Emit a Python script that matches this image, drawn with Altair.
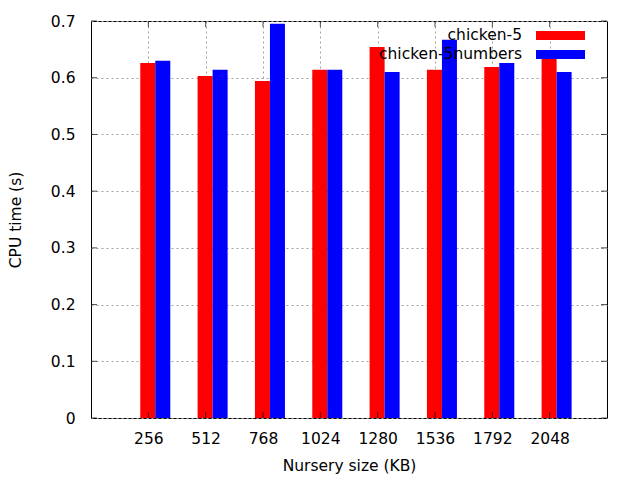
import altair as alt
import pandas as pd

sizes = [256, 512, 768, 1024, 1280, 1536, 1792, 2048]
series_names = ["chicken-5", "chicken-5numbers"]
chicken5 = [0.626, 0.603, 0.594, 0.614, 0.654, 0.614, 0.619, 0.645]
chicken5_numbers = [0.630, 0.614, 0.695, 0.614, 0.610, 0.667, 0.626, 0.610]
y_ticks = [0, 0.1, 0.2, 0.3, 0.4, 0.5, 0.6, 0.7]
colors = ["#ff0000", "#0000ff"]

rows = []
for i, s in enumerate(sizes):
    rows.append({"size": s, "series": series_names[0], "value": chicken5[i], "k": 0})
    rows.append({"size": s, "series": series_names[1], "value": chicken5_numbers[i], "k": 1})
df = pd.DataFrame(rows)

FONT = "DejaVu Sans"
FS = 15.5
W, H = 516, 397

color_scale = alt.Scale(domain=series_names, range=colors)
x_scale = alt.Scale(domain=[0, 2304], nice=False, zero=False)
y_scale = alt.Scale(domain=[0, 0.7], nice=False)

grid_dash = [2, 3]

bars = alt.Chart(df).transform_calculate(
    x0="datum.size - 36 + datum.k * 67",
    x1="datum.size + 31 + datum.k * 67",
).mark_bar(stroke=None).encode(
    x=alt.X("x0:Q", scale=x_scale,
            axis=alt.Axis(values=sizes, title="Nursery size (KB)", ticks=False,
                          format="d", labelPadding=13, titlePadding=12, grid=True,
                          gridColor="#a0a0a0", gridDash=grid_dash, domain=False,
                          labelFlush=False)),
    x2="x1:Q",
    y=alt.Y("value:Q", scale=y_scale,
            axis=alt.Axis(values=y_ticks, title="CPU time (s)", ticks=False,
                          format="~g", labelPadding=16, titlePadding=27, grid=True,
                          gridColor="#a0a0a0", gridDash=grid_dash, domain=False,
                          labelFlush=False)),
    y2=alt.datum(0),
    color=alt.Color("series:N", scale=color_scale, legend=None),
)

tick_df = pd.DataFrame({"v": y_ticks})
xt_df = pd.DataFrame({"s": sizes})

yticks_left = alt.Chart(tick_df).mark_tick(color="black", thickness=1, size=6, orient="horizontal").encode(
    y=alt.Y("v:Q", scale=y_scale), x=alt.value(3))
yticks_right = alt.Chart(tick_df).mark_tick(color="black", thickness=1, size=6, orient="horizontal").encode(
    y=alt.Y("v:Q", scale=y_scale), x=alt.value(W - 3))
xticks_bottom = alt.Chart(xt_df).mark_tick(color="black", thickness=1, size=6, orient="vertical").encode(
    x=alt.X("s:Q", scale=x_scale), y=alt.value(H - 3))
xticks_top = alt.Chart(xt_df).mark_tick(color="black", thickness=1, size=6, orient="vertical").encode(
    x=alt.X("s:Q", scale=x_scale), y=alt.value(3))

leg_df = pd.DataFrame({"series": series_names})
leg_layers = []
for i, name in enumerate(series_names):
    base = alt.Chart(leg_df).transform_filter(alt.datum.series == name)
    yc = 14 + i * 19
    leg_layers.append(base.mark_text(align="right", baseline="middle", font=FONT,
                                     fontSize=FS, color="black").encode(
        text="series:N", x=alt.value(431), y=alt.value(yc)))
    leg_layers.append(base.mark_rect().encode(
        x=alt.value(445), x2=alt.value(494), y=alt.value(yc - 4), y2=alt.value(yc + 5),
        color=alt.Color("series:N", scale=color_scale, legend=None)))

chart = alt.layer(bars, yticks_left, yticks_right, xticks_bottom, xticks_top, *leg_layers).properties(
    width=W, height=H,
    padding={"left": 91, "top": 21, "right": 640 - 91 - W, "bottom": 480 - 21 - H},
    autosize=alt.AutoSizeParams(type="none"),
    background="white",
).configure_view(
    stroke="black", strokeWidth=1
).configure_axis(
    labelFont=FONT, titleFont=FONT, labelFontSize=FS, titleFontSize=FS,
    labelColor="black", titleColor="black", titleFontWeight="normal",
)

chart.save("out.html", embed_options={"renderer": "svg", "actions": False})
